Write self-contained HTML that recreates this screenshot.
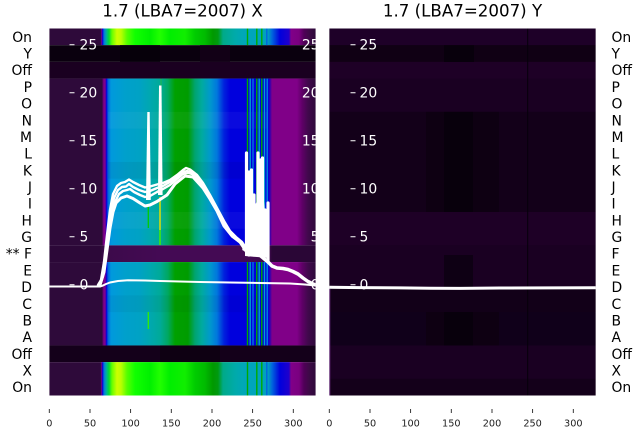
<!DOCTYPE html>
<html><head><meta charset="utf-8"><style>
html,body{margin:0;padding:0;background:#fff;}
svg{display:block;}
text{font-family:"DejaVu Sans","Liberation Sans",sans-serif;}
</style></head><body>
<svg width="640" height="440" viewBox="0 0 640 440" xmlns="http://www.w3.org/2000/svg">
<defs>
<linearGradient id="gB" gradientUnits="userSpaceOnUse" x1="0" y1="0" x2="1000" y2="0">
<stop offset="0" stop-color="#2e0a3a"/>
<stop offset="0.1005" stop-color="#2e0a3a"/>
<stop offset="0.1015" stop-color="#7a0088"/>
<stop offset="0.1025" stop-color="#0000dd"/>
<stop offset="0.104" stop-color="#0077dd"/>
<stop offset="0.106" stop-color="#00aaaa"/>
<stop offset="0.109" stop-color="#00dd33"/>
<stop offset="0.112" stop-color="#66ff00"/>
<stop offset="0.117" stop-color="#ccff00"/>
<stop offset="0.121" stop-color="#bbff00"/>
<stop offset="0.127" stop-color="#55ff00"/>
<stop offset="0.135" stop-color="#11ff00"/>
<stop offset="0.150" stop-color="#00f000"/>
<stop offset="0.160" stop-color="#22ff00"/>
<stop offset="0.170" stop-color="#00ee00"/>
<stop offset="0.185" stop-color="#11ee00"/>
<stop offset="0.195" stop-color="#00cc00"/>
<stop offset="0.205" stop-color="#00bb00"/>
<stop offset="0.213" stop-color="#009900"/>
<stop offset="0.218" stop-color="#009a10"/>
<stop offset="0.223" stop-color="#00aa88"/>
<stop offset="0.235" stop-color="#00aaaa"/>
<stop offset="0.246" stop-color="#00a6bb"/>
<stop offset="0.268" stop-color="#00a0c0"/>
<stop offset="0.272" stop-color="#0066dd"/>
<stop offset="0.280" stop-color="#0000dd"/>
<stop offset="0.289" stop-color="#2000cc"/>
<stop offset="0.291" stop-color="#800088"/>
<stop offset="0.299" stop-color="#7a0080"/>
<stop offset="0.304" stop-color="#500058"/>
<stop offset="0.310" stop-color="#3a0a44"/>
<stop offset="0.316" stop-color="#2e0a3a"/>
</linearGradient>
<linearGradient id="gG" gradientUnits="userSpaceOnUse" x1="0" y1="0" x2="1000" y2="0">
<stop offset="0" stop-color="#2e0a3a"/>
<stop offset="0.102" stop-color="#2e0a3a"/>
<stop offset="0.103" stop-color="#600070"/>
<stop offset="0.104" stop-color="#880088"/>
<stop offset="0.1055" stop-color="#6a0099"/>
<stop offset="0.1065" stop-color="#0000dd"/>
<stop offset="0.108" stop-color="#0066dd"/>
<stop offset="0.111" stop-color="#0099dd"/>
<stop offset="0.125" stop-color="#00a0cc"/>
<stop offset="0.140" stop-color="#00a2c4"/>
<stop offset="0.150" stop-color="#00a8b0"/>
<stop offset="0.160" stop-color="#00aa99"/>
<stop offset="0.168" stop-color="#00a860"/>
<stop offset="0.175" stop-color="#00a000"/>
<stop offset="0.188" stop-color="#009c00"/>
<stop offset="0.195" stop-color="#00a470"/>
<stop offset="0.202" stop-color="#00aaa0"/>
<stop offset="0.210" stop-color="#0099cc"/>
<stop offset="0.217" stop-color="#0077dd"/>
<stop offset="0.224" stop-color="#0022dd"/>
<stop offset="0.230" stop-color="#0000dd"/>
<stop offset="0.268" stop-color="#0000dd"/>
<stop offset="0.270" stop-color="#3000b0"/>
<stop offset="0.272" stop-color="#800088"/>
<stop offset="0.297" stop-color="#800088"/>
<stop offset="0.302" stop-color="#600068"/>
<stop offset="0.308" stop-color="#40084c"/>
<stop offset="0.316" stop-color="#2e0a3a"/>
</linearGradient>
<linearGradient id="gF" gradientUnits="userSpaceOnUse" x1="0" y1="0" x2="1000" y2="0">
<stop offset="0" stop-color="#2c0838"/>
<stop offset="0.100" stop-color="#2c0838"/>
<stop offset="0.104" stop-color="#3c0a4a"/>
<stop offset="0.160" stop-color="#440a54"/>
<stop offset="0.250" stop-color="#440a54"/>
<stop offset="0.270" stop-color="#3a0848"/>
<stop offset="0.272" stop-color="#2a0636"/>
<stop offset="1" stop-color="#2a0636"/>
</linearGradient>
<clipPath id="cL"><rect x="49.3" y="28.5" width="266.4" height="367"/></clipPath>
<clipPath id="cR"><rect x="329.3" y="28.5" width="266.4" height="367"/></clipPath>
</defs>

<text x="182.5" y="16.7" font-size="16.67" text-anchor="middle" fill="#000">1.7 (LBA7=2007) X</text>
<text x="462.5" y="16.7" font-size="16.67" text-anchor="middle" fill="#000">1.7 (LBA7=2007) Y</text>

<g clip-path="url(#cL)">
<rect x="49.3" y="28.5" width="266.4" height="16.7" fill="url(#gB)"/>
<rect x="49.3" y="45.18" width="266.4" height="16.7" fill="#0a000e"/>
<rect x="120" y="45.18" width="40" height="16.7" fill="#06000a"/>
<rect x="200" y="45.18" width="30" height="16.7" fill="#120016"/>
<rect x="49.3" y="61.86" width="266.4" height="16.7" fill="#1a0020"/>
<rect x="49.3" y="78.55" width="266.4" height="166.82" fill="url(#gG)"/>
<rect x="49.3" y="245.37" width="266.4" height="16.68" fill="url(#gF)"/>
<rect x="49.3" y="262.05" width="266.4" height="83.41" fill="url(#gG)"/>
<rect x="49.3" y="345.46" width="266.4" height="16.68" fill="#14001a"/>
<rect x="160" y="345.46" width="60" height="16.68" fill="#0e0012"/>
<rect x="49.3" y="362.14" width="266.4" height="33.36" fill="url(#gB)"/>
<rect x="108" y="111.9" width="160" height="16.7" fill="#fff" opacity="0.04"/>
<rect x="108" y="161.96" width="160" height="16.7" fill="#000" opacity="0.05"/>
<rect x="108" y="212" width="160" height="16.7" fill="#fff" opacity="0.04"/>
<rect x="108" y="295.4" width="160" height="16.7" fill="#000" opacity="0.04"/>
<g stroke-width="1.4">
<line x1="247.5" y1="78.5" x2="247.5" y2="245.4" stroke="#00aa00"/>
<line x1="250.2" y1="78.5" x2="250.2" y2="245.4" stroke="#00a0d0"/>
<line x1="253" y1="78.5" x2="253" y2="245.4" stroke="#0077dd"/>
<line x1="256.8" y1="78.5" x2="256.8" y2="245.4" stroke="#00aa00"/>
<line x1="259.2" y1="78.5" x2="259.2" y2="245.4" stroke="#00a0d0"/>
<line x1="261.8" y1="78.5" x2="261.8" y2="245.4" stroke="#00aa00"/>
<line x1="264.5" y1="78.5" x2="264.5" y2="245.4" stroke="#00a0d0"/>
<line x1="267.2" y1="78.5" x2="267.2" y2="245.4" stroke="#0088dd"/>
<line x1="247.5" y1="262" x2="247.5" y2="345.5" stroke="#00aa00"/>
<line x1="250.2" y1="262" x2="250.2" y2="345.5" stroke="#00a0d0"/>
<line x1="253" y1="262" x2="253" y2="345.5" stroke="#0077dd"/>
<line x1="256.8" y1="262" x2="256.8" y2="345.5" stroke="#00aa00"/>
<line x1="259.2" y1="262" x2="259.2" y2="345.5" stroke="#00a0d0"/>
<line x1="261.8" y1="262" x2="261.8" y2="345.5" stroke="#00aa00"/>
<line x1="264.5" y1="262" x2="264.5" y2="345.5" stroke="#00a0d0"/>
<line x1="267.2" y1="262" x2="267.2" y2="345.5" stroke="#0088dd"/>
<line x1="247.5" y1="28.5" x2="247.5" y2="45.2" stroke="#00aa00"/>
<line x1="256.8" y1="28.5" x2="256.8" y2="45.2" stroke="#00aa00"/>
<line x1="261.8" y1="28.5" x2="261.8" y2="45.2" stroke="#00aa00"/>
<line x1="266.8" y1="28.5" x2="266.8" y2="45.2" stroke="#0066dd"/>
<line x1="247.5" y1="362.1" x2="247.5" y2="395.5" stroke="#00aa00"/>
<line x1="256.8" y1="362.1" x2="256.8" y2="395.5" stroke="#00aa00"/>
<line x1="261.8" y1="362.1" x2="261.8" y2="395.5" stroke="#00aa00"/>
<line x1="266.8" y1="362.1" x2="266.8" y2="395.5" stroke="#0066dd"/>
</g>
<line x1="160" y1="197" x2="160" y2="230" stroke="#e0e000" stroke-width="1.5"/>
<line x1="160" y1="230" x2="160" y2="245" stroke="#44ee00" stroke-width="1.5"/>
<line x1="148.3" y1="205" x2="148.3" y2="228" stroke="#00cc00" stroke-width="1.3"/>
<line x1="148.3" y1="312" x2="148.3" y2="329" stroke="#33ee00" stroke-width="1.3"/>
<line x1="161" y1="78.5" x2="161" y2="88" stroke="#22bb44" stroke-width="1"/>

<g fill="none" stroke="#fff" stroke-linejoin="round" stroke-linecap="round">
<path stroke-width="2" d="M49.3,286.5 L100,286.5 L103,285.5 L106,284 L110,282.5 L118,281 L128,280.3 L145,280.5 L160,281 L180,281.5 L200,282 L230,282.5 L260,283 L290,283.5 L305,284.5 L316,285.5"/>
<path stroke-width="2.4" d="M98,285 L101,280 L104,262 L107,235 L110,210 L113,194 L117,186 L121,183 L125,182 L129,179.5 L133,182 L139,185 L145,187.5 L150,186.5 L157,184.5 L163,183 L170,180 L177,175 L183,170 L186,168 L190,169.5 L197,175 L203,183 L210,195 L217,208 L224,221 L230,231 L236,237 L242,242 L246,248"/>
<path stroke-width="2.4" d="M99,285 L102,278 L105,258 L108,232 L111,212 L114,198 L118,190 L122,187 L126,186.5 L129,184 L133,187 L139,190 L145,192 L150,191 L157,188 L163,186 L170,182 L177,177 L183,172 L187,171 L191,172 L197,177 L203,185 L210,197 L217,210 L224,224 L230,233 L236,239 L242,244 L246,250"/>
<path stroke-width="2.4" d="M100,285 L103,276 L106,255 L109,230 L112,214 L115,202 L119,194 L123,191 L127,190 L130,189 L134,192 L140,195 L145,197 L150,196 L157,192 L163,189 L170,185 L177,179 L183,174 L188,173 L192,174 L198,179 L204,187 L211,199 L218,212 L225,226 L231,235 L237,240 L243,245 L246,251"/>
<path stroke-width="3" d="M100,285 L104,272 L107,250 L110,228 L113,212 L116,203 L121,198 L127,196 L133,198.5 L140,203 L145,206 L150,205 L157,201.5 L167,195 L175,184 L185,176 L193,177 L203,188 L210,199 L217,211 L224,226 L232,236 L240,242 L246,251"/>
<path stroke-width="3.2" d="M246.5,153 L246.5,252 M249,172 L249,255 M251.5,170 L251.5,250 M254,195 L254,255 M256,205 L256,255 M258,153 L258,255 M260.5,160 L260.5,250 M262.5,158 L262.5,255 M265,210 L265,255 M268,203 L268,262"/>
<path stroke-width="3.5" d="M244,249 L256,252 L268,262 L272,266 L277,268 L283,268.5 L288,269.5 L293,271.5 L298,274 L303,278 L308,281.5 L313,284 L316,285"/>
</g>
<polygon points="245,250 247,200 250,185 253,215 257,200 260,180 263,190 266,225 269,230 269,258 245,256" fill="#fff"/>
<polygon points="146,200 147.3,112 149.7,112 150.8,200" fill="#fff"/>
<polygon points="158,195 159,85.5 161.5,85.5 162.6,195" fill="#fff"/>

<g stroke="#fff" stroke-width="1">
<line x1="69.5" y1="44.7" x2="74.5" y2="44.7"/>
<line x1="69.5" y1="92.7" x2="74.5" y2="92.7"/>
<line x1="69.5" y1="140.7" x2="74.5" y2="140.7"/>
<line x1="69.5" y1="188.7" x2="74.5" y2="188.7"/>
<line x1="69.5" y1="236.7" x2="74.5" y2="236.7"/>
<line x1="69.5" y1="284.7" x2="74.5" y2="284.7"/>
</g>
<g fill="#fff" font-size="13.9">
<text x="79.5" y="49.7">25</text>
<text x="79.5" y="97.7">20</text>
<text x="79.5" y="145.7">15</text>
<text x="79.5" y="193.7">10</text>
<text x="79.5" y="241.7">5</text>
<text x="79.5" y="289.7">0</text>
<text x="319.5" y="49.7" text-anchor="end">25</text>
<text x="319.5" y="97.7" text-anchor="end">20</text>
<text x="319.5" y="145.7" text-anchor="end">15</text>
<text x="319.5" y="193.7" text-anchor="end">10</text>
<text x="319.5" y="241.7" text-anchor="end">5</text>
<text x="319.5" y="289.7" text-anchor="end">0</text>
</g>
</g>

<g clip-path="url(#cR)">
<rect x="329.3" y="28.5" width="266.4" height="367" fill="#170020"/>
<rect x="329.3" y="28.5" width="266.4" height="16.7" fill="#1e0028"/>
<rect x="329.3" y="45.18" width="266.4" height="16.7" fill="#100014"/>
<rect x="329.3" y="61.86" width="266.4" height="16.7" fill="#1e0026"/>
<rect x="329.3" y="78.55" width="266.4" height="33.4" fill="#1a0022"/>
<rect x="329.3" y="111.9" width="266.4" height="100.1" fill="#130019"/>
<rect x="329.3" y="212" width="266.4" height="33.4" fill="#1e0026"/>
<rect x="329.3" y="245.4" width="266.4" height="42" fill="#1a0022"/>
<rect x="329.3" y="289" width="266.4" height="23" fill="#120018"/>
<rect x="329.3" y="312.1" width="266.4" height="33.4" fill="#10001a"/>
<rect x="329.3" y="345.5" width="266.4" height="33.3" fill="#1a0022"/>
<rect x="329.3" y="378.8" width="266.4" height="16.7" fill="#14001a"/>
<rect x="426" y="111.9" width="73" height="100.1" fill="#0e0012"/>
<rect x="444" y="111.9" width="29" height="100.1" fill="#08000c"/>
<rect x="426" y="312.1" width="73" height="33.4" fill="#0e0012"/>
<rect x="444" y="312.1" width="29" height="33.4" fill="#08000c"/>
<rect x="444" y="255" width="29" height="32" fill="#0e0014"/>
<rect x="444" y="45.2" width="30" height="16.7" fill="#08000c"/>
<line x1="527.7" y1="28.5" x2="527.7" y2="395.5" stroke="#05000a" stroke-width="1"/>
<line x1="329.8" y1="289" x2="329.8" y2="395.5" stroke="#6a2a80" stroke-width="1"/>
<g stroke="#fff" stroke-width="1">
<line x1="350.5" y1="44.7" x2="355.5" y2="44.7"/>
<line x1="350.5" y1="92.7" x2="355.5" y2="92.7"/>
<line x1="350.5" y1="140.7" x2="355.5" y2="140.7"/>
<line x1="350.5" y1="188.7" x2="355.5" y2="188.7"/>
<line x1="350.5" y1="236.7" x2="355.5" y2="236.7"/>
<line x1="350.5" y1="284.7" x2="355.5" y2="284.7"/>
</g>
<g fill="#fff" font-size="13.9">
<text x="359.5" y="49.7">25</text>
<text x="359.5" y="97.7">20</text>
<text x="359.5" y="145.7">15</text>
<text x="359.5" y="193.7">10</text>
<text x="359.5" y="241.7">5</text>
<text x="359.5" y="289.7">0</text>
</g>
<path d="M329,287.3 L360,287.6 L400,287.9 L430,288.3 L460,288.4 L500,288 L550,287.9 L596,287.8" fill="none" stroke="#fff" stroke-width="3"/>
</g>

<g font-size="13.9" fill="#000" text-anchor="end">
<text x="32" y="41.8">On</text>
<text x="32" y="58.5">Y</text>
<text x="32" y="75.2">Off</text>
<text x="32" y="91.9">P</text>
<text x="32" y="108.6">O</text>
<text x="32" y="125.3">N</text>
<text x="32" y="141.9">M</text>
<text x="32" y="158.6">L</text>
<text x="32" y="175.3">K</text>
<text x="32" y="192.0">J</text>
<text x="32" y="208.7">I</text>
<text x="32" y="225.3">H</text>
<text x="32" y="242.0">G</text>
<text x="32" y="258.7">** F</text>
<text x="32" y="275.4">E</text>
<text x="32" y="292.1">D</text>
<text x="32" y="308.8">C</text>
<text x="32" y="325.4">B</text>
<text x="32" y="342.1">A</text>
<text x="32" y="358.8">Off</text>
<text x="32" y="375.5">X</text>
<text x="32" y="392.2">On</text>
</g>
<g font-size="13.9" fill="#000">
<text x="611.5" y="41.8">On</text>
<text x="611.5" y="58.5">Y</text>
<text x="611.5" y="75.2">Off</text>
<text x="611.5" y="91.9">P</text>
<text x="611.5" y="108.6">O</text>
<text x="611.5" y="125.3">N</text>
<text x="611.5" y="141.9">M</text>
<text x="611.5" y="158.6">L</text>
<text x="611.5" y="175.3">K</text>
<text x="611.5" y="192.0">J</text>
<text x="611.5" y="208.7">I</text>
<text x="611.5" y="225.3">H</text>
<text x="611.5" y="242.0">G</text>
<text x="611.5" y="258.7">F</text>
<text x="611.5" y="275.4">E</text>
<text x="611.5" y="292.1">D</text>
<text x="611.5" y="308.8">C</text>
<text x="611.5" y="325.4">B</text>
<text x="611.5" y="342.1">A</text>
<text x="611.5" y="358.8">Off</text>
<text x="611.5" y="375.5">X</text>
<text x="611.5" y="392.2">On</text>
</g>

<g stroke="#222" stroke-width="0.9">
<line x1="49.3" y1="409" x2="49.3" y2="413"/>
<line x1="90" y1="409" x2="90" y2="413"/>
<line x1="130.6" y1="409" x2="130.6" y2="413"/>
<line x1="171.3" y1="409" x2="171.3" y2="413"/>
<line x1="212" y1="409" x2="212" y2="413"/>
<line x1="252.6" y1="409" x2="252.6" y2="413"/>
<line x1="293.3" y1="409" x2="293.3" y2="413"/>
<line x1="329.3" y1="409" x2="329.3" y2="413"/>
<line x1="370" y1="409" x2="370" y2="413"/>
<line x1="410.6" y1="409" x2="410.6" y2="413"/>
<line x1="451.3" y1="409" x2="451.3" y2="413"/>
<line x1="492" y1="409" x2="492" y2="413"/>
<line x1="532.6" y1="409" x2="532.6" y2="413"/>
<line x1="573.3" y1="409" x2="573.3" y2="413"/>
</g>
<g font-size="9.72" fill="#222" text-anchor="middle">
<text x="49.3" y="426.7">0</text>
<text x="90" y="426.7">50</text>
<text x="130.6" y="426.7">100</text>
<text x="171.3" y="426.7">150</text>
<text x="212" y="426.7">200</text>
<text x="252.6" y="426.7">250</text>
<text x="293.3" y="426.7">300</text>
<text x="329.3" y="426.7">0</text>
<text x="370" y="426.7">50</text>
<text x="410.6" y="426.7">100</text>
<text x="451.3" y="426.7">150</text>
<text x="492" y="426.7">200</text>
<text x="532.6" y="426.7">250</text>
<text x="573.3" y="426.7">300</text>
</g>
</svg>
</body></html>
